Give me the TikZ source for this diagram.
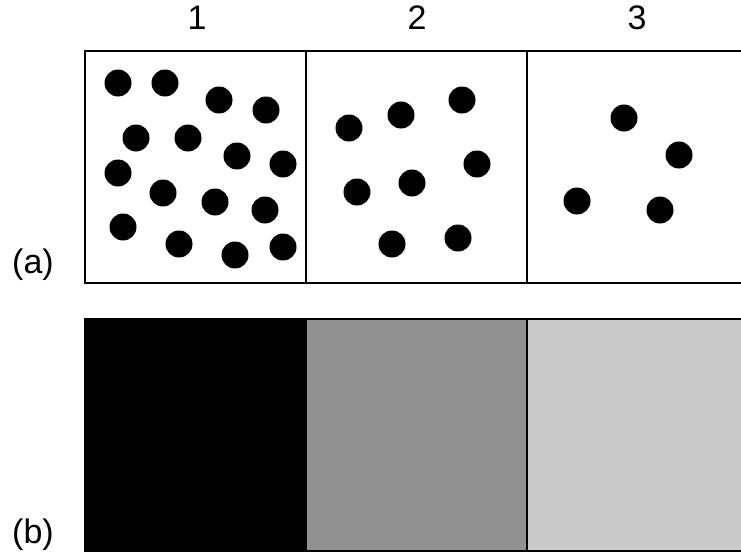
\documentclass[tikz,border=0pt]{standalone}
\usepackage{fontspec}
\setmainfont{Liberation Sans}
\definecolor{cmid}{HTML}{919191}
\definecolor{clight}{HTML}{CACACA}
\tikzset{
  every picture/.style={line width=1pt},
  cell/.style={draw=black, fill=#1, minimum width=110.5pt, minimum height=116pt, inner sep=0pt, outer sep=0pt, anchor=north west},
  cell/.default=white,
  dot/.style={fill=black},
  lbl/.style={font=\fontsize{17}{20}\selectfont, inner sep=0pt},
}
\begin{document}
\begin{tikzpicture}[x=0.5pt, y=-0.5pt]
  \clip (0,0) rectangle (741,557);
  % (a) particles
  \node[cell] (a1) at (85,51) {};
  \node[cell] (a2) at (306,51) {};
  \node[cell] (a3) at (527,51) {};
  \foreach \x/\y in {118/83, 165/83, 219/100, 266/110, 136/138, 188/138, 237/156, 283/164,
                     118/173, 163/193, 215/202, 265/210, 123/227, 179/244, 235/255, 283/247}
    \fill[dot] (\x,\y) circle[radius=6.75pt];
  \foreach \x/\y in {349/128, 401/115, 462/100, 477/164, 412/183, 357/192, 392/244, 458/238}
    \fill[dot] (\x,\y) circle[radius=6.75pt];
  \foreach \x/\y in {624/118, 679/155, 577/201, 660/210}
    \fill[dot] (\x,\y) circle[radius=6.75pt];
  % (b) grey levels
  \node[cell=black] (b1) at (85,319) {};
  \node[cell=cmid] (b2) at (306,319) {};
  \node[cell=clight] (b3) at (527,319) {};
  \node[lbl] (n1) at (197,18) {1};
  \node[lbl] (n2) at (417,18) {2};
  \node[lbl] (n3) at (637,18) {3};
  \node[lbl] (la) at (33,265) {(a)};
  \node[lbl] (lb) at (33,535) {(b)};
\end{tikzpicture}
\end{document}
